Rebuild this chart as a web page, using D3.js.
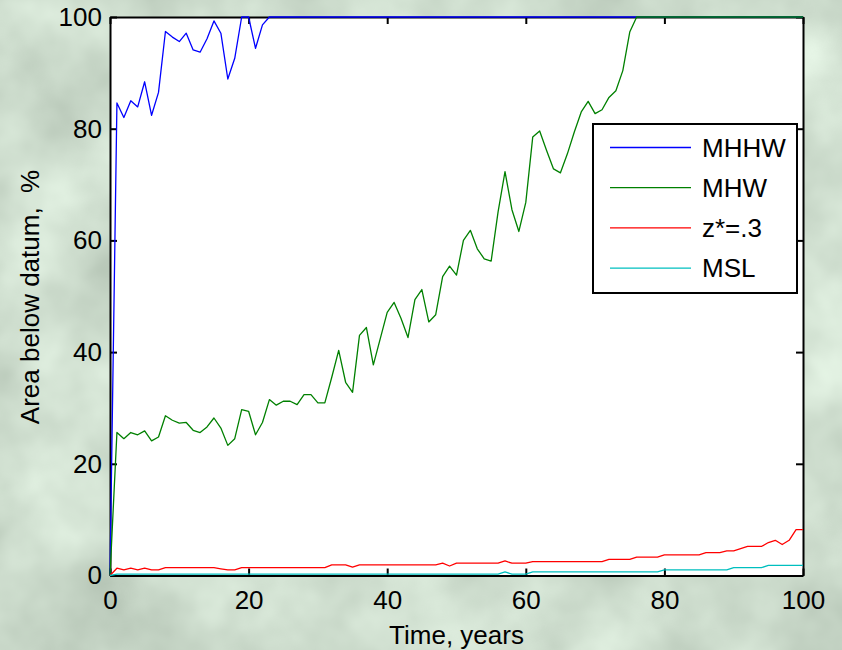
<!DOCTYPE html>
<html>
<head>
<meta charset="utf-8">
<script src="https://cdn.jsdelivr.net/npm/d3@7"></script>
<style>
  body { margin: 0; padding: 0; overflow: hidden; }
  svg { display: block; font-family: "Liberation Sans", Arial, sans-serif; }
</style>
</head>
<body>
<div id="okvir"></div>
<script>
// podaci ocitani sa slike, godine 0..100
const godine = d3.range(0, 101)

const mhhw = [0, 84.6, 82.0, 85.0, 83.9, 88.4, 82.4, 86.5, 97.4, 96.4,
  95.6, 97.1, 94.1, 93.7, 96.1, 99.3, 97.1, 88.9, 92.6, 100,
  100, 94.4, 98.6, 100, 100, 100, 100, 100, 100, 100,
  100, 100, 100, 100, 100, 100, 100, 100, 100, 100,
  100, 100, 100, 100, 100, 100, 100, 100, 100, 100,
  100, 100, 100, 100, 100, 100, 100, 100, 100, 100,
  100, 100, 100, 100, 100, 100, 100, 100, 100, 100,
  100, 100, 100, 100, 100, 100, 100, 100, 100, 100,
  100, 100, 100, 100, 100, 100, 100, 100, 100, 100,
  100, 100, 100, 100, 100, 100, 100, 100, 100, 100,
  100]

const mhw = [0, 25.6, 24.5, 25.6, 25.2, 25.9, 24.1, 24.8, 28.6, 27.8,
  27.3, 27.4, 26.0, 25.6, 26.6, 28.2, 26.4, 23.3, 24.5, 29.7,
  29.4, 25.2, 27.4, 31.5, 30.5, 31.2, 31.2, 30.6, 32.4, 32.4,
  30.9, 30.9, 35.5, 40.3, 34.6, 32.8, 43.0, 44.4, 37.7, 42.4,
  47.1, 48.9, 46.0, 42.6, 49.4, 51.2, 45.4, 46.7, 53.5, 55.4,
  53.8, 60.0, 61.8, 58.5, 56.7, 56.3, 65.1, 72.3, 65.5, 61.6,
  66.8, 78.5, 79.6, 76.1, 72.8, 72.1, 75.5, 79.4, 83.0, 84.9,
  82.7, 83.4, 85.6, 86.8, 90.4, 97.3, 100, 100, 100, 100,
  100, 100, 100, 100, 100, 100, 100, 100, 100, 100,
  100, 100, 100, 100, 100, 100, 100, 100, 100, 100,
  100]

const zStar = [0, 1.3, 1.0, 1.3, 1.0, 1.3, 1.0, 1.0, 1.4, 1.4,
  1.4, 1.4, 1.4, 1.4, 1.4, 1.4, 1.2, 1.0, 1.0, 1.4,
  1.4, 1.4, 1.4, 1.4, 1.4, 1.4, 1.4, 1.4, 1.4, 1.4,
  1.4, 1.4, 1.9, 1.9, 1.9, 1.5, 1.9, 1.9, 1.9, 1.9,
  1.9, 1.9, 1.9, 1.9, 1.9, 1.9, 1.9, 1.9, 2.2, 1.7,
  2.2, 2.2, 2.2, 2.2, 2.2, 2.2, 2.2, 2.6, 2.2, 2.2,
  2.2, 2.5, 2.5, 2.5, 2.5, 2.5, 2.5, 2.5, 2.5, 2.5,
  2.5, 2.5, 2.9, 2.9, 2.9, 2.9, 3.3, 3.3, 3.3, 3.3,
  3.7, 3.7, 3.7, 3.7, 3.7, 3.7, 4.1, 4.1, 4.1, 4.4,
  4.4, 4.8, 5.2, 5.2, 5.2, 5.9, 6.3, 5.55, 6.3, 8.2,
  8.2]

const msl = [0, 0.25, 0.25, 0.25, 0.25, 0.25, 0.25, 0.25, 0.25, 0.25,
  0.25, 0.25, 0.25, 0.25, 0.25, 0.25, 0.25, 0.25, 0.25, 0.25,
  0.25, 0.25, 0.25, 0.25, 0.25, 0.25, 0.25, 0.25, 0.25, 0.25,
  0.25, 0.25, 0.25, 0.25, 0.25, 0.25, 0.25, 0.25, 0.25, 0.25,
  0.25, 0.25, 0.25, 0.25, 0.25, 0.25, 0.25, 0.25, 0.25, 0.25,
  0.25, 0.25, 0.25, 0.25, 0.25, 0.25, 0.25, 0.65, 0.25, 0.25,
  0.25, 0.65, 0.65, 0.65, 0.65, 0.65, 0.65, 0.65, 0.65, 0.65,
  0.65, 0.65, 0.65, 0.65, 0.65, 0.65, 0.65, 0.65, 0.65, 0.65,
  1.0, 1.0, 1.0, 1.0, 1.0, 1.0, 1.0, 1.0, 1.0, 1.0,
  1.4, 1.4, 1.4, 1.4, 1.4, 1.8, 1.8, 1.8, 1.8, 1.8,
  1.8]

const imenaSerija = ["MHHW", "MHW", "z*=.3", "MSL"]
const bojeSerija = ["#0000ff", "#008000", "#ff0000", "#00bfbf"]
const xTickovi = [0, 20, 40, 60, 80, 100]
const yTickovi = [0, 20, 40, 60, 80, 100]

const serije = [mhhw, mhw, zStar, msl].map((vr, i) => ({
  ime: imenaSerija[i],
  boja: bojeSerija[i],
  vrijednosti: vr
}))

let dimenzije = {
  sirina: 842,
  visina: 650,
  margine: { top: 17, right: 39, bottom: 74.5, left: 110 },
}
dimenzije.grSirina = dimenzije.sirina - dimenzije.margine.left - dimenzije.margine.right
dimenzije.grVisina = dimenzije.visina - dimenzije.margine.top - dimenzije.margine.bottom

const okvir = d3.select("#okvir")
  .append("svg")
  .attr("width", dimenzije.sirina)
  .attr("height", dimenzije.visina)

// pozadina - svijetla sivo-zelena tekstura
const defs = okvir.append("defs")
const filter = defs.append("filter")
  .attr("id", "tekstura")
  .attr("x", 0).attr("y", 0).attr("width", 1).attr("height", 1)
  .attr("color-interpolation-filters", "sRGB")
filter.append("feTurbulence")
  .attr("type", "fractalNoise")
  .attr("baseFrequency", 0.009)
  .attr("numOctaves", 4)
  .attr("seed", 7)
filter.append("feColorMatrix")
  .attr("type", "matrix")
  .attr("values", "0.28 0 0 0 0.66  0.28 0 0 0 0.72  0.28 0 0 0 0.66  0 0 0 0 1")

okvir.append("rect")
  .attr("width", dimenzije.sirina)
  .attr("height", dimenzije.visina)
  .attr("fill", "#d4dccb")
okvir.append("rect")
  .attr("width", dimenzije.sirina)
  .attr("height", dimenzije.visina)
  .attr("filter", "url(#tekstura)")

const granice = okvir.append("g")
  .attr("transform", `translate(${dimenzije.margine.left},${dimenzije.margine.top})`)

const xSkala = d3.scaleLinear()
  .domain([0, 100])
  .range([0, dimenzije.grSirina])

const ySkala = d3.scaleLinear()
  .domain([0, 100])
  .range([dimenzije.grVisina, 0])

granice.append("rect")
  .attr("width", dimenzije.grSirina)
  .attr("height", dimenzije.grVisina)
  .attr("fill", "white")

// osi (tickovi prema unutra, kao u matlabu)
const fontVel = 26
function stilOsi(g) {
  g.select(".domain").attr("stroke", "black").attr("stroke-width", 2)
  g.selectAll(".tick line").attr("stroke", "black").attr("stroke-width", 2)
  g.selectAll(".tick text")
    .attr("fill", "black")
    .attr("font-size", fontVel)
    .attr("font-family", "Liberation Sans, Arial, sans-serif")
}

granice.append("g")
  .attr("transform", `translate(0,${dimenzije.grVisina})`)
  .call(d3.axisBottom(xSkala).tickValues(xTickovi).tickSizeInner(-7).tickSizeOuter(0).tickPadding(15))
  .call(stilOsi)

granice.append("g")
  .call(d3.axisTop(xSkala).tickValues(xTickovi).tickSizeInner(-7).tickSizeOuter(0).tickFormat(""))
  .call(stilOsi)

granice.append("g")
  .call(d3.axisLeft(ySkala).tickValues(yTickovi).tickSizeInner(-7).tickSizeOuter(0).tickPadding(8))
  .call(stilOsi)

granice.append("g")
  .attr("transform", `translate(${dimenzije.grSirina},0)`)
  .call(d3.axisRight(ySkala).tickValues(yTickovi).tickSizeInner(-7).tickSizeOuter(0).tickFormat(""))
  .call(stilOsi)

// linije
const linijaGenerator = d3.line()
  .x((d, i) => xSkala(godine[i]))
  .y(d => ySkala(d))

granice.selectAll(".serija")
  .data(serije)
  .enter().append("path")
    .attr("class", "serija")
    .attr("fill", "none")
    .attr("stroke", d => d.boja)
    .attr("stroke-width", 1.3)
    .attr("stroke-linejoin", "round")
    .attr("d", d => linijaGenerator(d.vrijednosti))

// legenda
const legenda = okvir.append("g")
  .attr("transform", "translate(593,124)")

legenda.append("rect")
  .attr("width", 204)
  .attr("height", 169)
  .attr("fill", "white")
  .attr("stroke", "black")
  .attr("stroke-width", 2)

const stavke = legenda.selectAll(".stavka")
  .data(serije)
  .enter().append("g")
    .attr("class", "stavka")
    .attr("transform", (d, i) => `translate(0,${23.5 + i * 40.2})`)

stavke.append("line")
  .attr("x1", 17).attr("x2", 98)
  .attr("stroke", d => d.boja)
  .attr("stroke-width", 1.3)

stavke.append("text")
  .attr("x", 109)
  .attr("dy", "0.36em")
  .attr("font-size", fontVel)
  .attr("fill", "black")
  .text(d => d.ime)

// naslovi osi
okvir.append("text")
  .attr("x", dimenzije.margine.left + dimenzije.grSirina / 2)
  .attr("y", 644)
  .attr("text-anchor", "middle")
  .attr("font-size", fontVel)
  .attr("fill", "black")
  .text("Time, years")

okvir.append("text")
  .attr("transform", "translate(39,297) rotate(-90)")
  .attr("text-anchor", "middle")
  .attr("font-size", fontVel)
  .attr("fill", "black")
  .attr("xml:space", "preserve")
  .text("Area below datum,  %")
</script>
</body>
</html>
